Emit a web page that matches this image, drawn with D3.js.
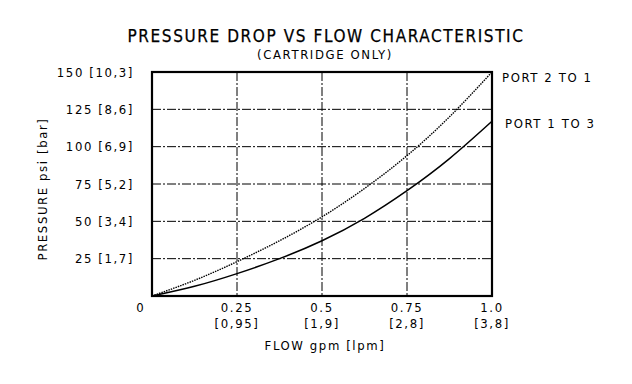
<!DOCTYPE html>
<html>
<head>
<meta charset="utf-8">
<script src="https://cdn.jsdelivr.net/npm/d3@7"></script>
<style>
  body { margin: 0; background: #fff; }
  text { font-family: "DejaVu Sans Condensed", "DejaVu Sans", sans-serif; fill: #000; }
</style>
</head>
<body>
<div id="chart"></div>
<script>
// flow in gpm, pressure in psi
var flow = [0, 0.125, 0.25, 0.375, 0.5, 0.625, 0.75, 0.875, 1.0];
var port21 = [0, 10.5, 23, 37, 53, 72, 94, 120, 150];
var port13 = [0, 6.5, 15, 25, 37, 52, 70.5, 92, 117];

var flowTicks = [0.25, 0.5, 0.75, 1.0];
var flowTickLabels = ["0.25", "0.5", "0.75", "1.0"];
var flowLpmLabels = ["[0,95]", "[1,9]", "[2,8]", "[3,8]"];
var pressTicks = [25, 50, 75, 100, 125, 150];
var pressBarLabels = ["[1,7]", "[3,4]", "[5,2]", "[6,9]", "[8,6]", "[10,3]"];

var margin = {top: 72, right: 140, bottom: 88, left: 152},
    width = 632 - margin.left - margin.right,
    height = 384 - margin.top - margin.bottom;

var svg = d3.select("#chart")
  .append("svg")
    .attr("width", 632)
    .attr("height", 384);

var g = svg.append("g")
    .attr("transform", "translate(" + margin.left + "," + margin.top + ")");

var x = d3.scaleLinear().domain([0, 1]).range([0, width]);
var y = d3.scaleLinear().domain([0, 150]).range([height, 0]);

function label(sel, size, sp) {
  return sel.style("font-size", size + "px").style("letter-spacing", sp + "px");
}

// titles
label(svg.append("text"), 17, 1.6)
    .attr("x", 326).attr("y", 42)
    .attr("text-anchor", "middle")
    .style("stroke", "#000").style("stroke-width", "0.25px")
    .text("PRESSURE DROP VS FLOW CHARACTERISTIC");

label(svg.append("text"), 13, 1.6)
    .attr("x", 325).attr("y", 59)
    .attr("text-anchor", "middle")
    .text("(CARTRIDGE ONLY)");

// grid
g.selectAll(".vgrid")
  .data(flowTicks.filter(function(d) { return d < 1; }))
  .enter().append("line")
    .attr("x1", function(d) { return x(d); })
    .attr("x2", function(d) { return x(d); })
    .attr("y1", 0).attr("y2", height)
    .attr("stroke", "#000").attr("stroke-width", 1)
    .attr("stroke-dasharray", "9,2,2,2");

g.selectAll(".hgrid")
  .data(pressTicks.filter(function(d) { return d < 150; }))
  .enter().append("line")
    .attr("y1", function(d) { return y(d); })
    .attr("y2", function(d) { return y(d); })
    .attr("x1", 0).attr("x2", width)
    .attr("stroke", "#000").attr("stroke-width", 1)
    .attr("stroke-dasharray", "9,2,2,2");

// curves
var line = d3.line()
    .x(function(d) { return x(d[0]); })
    .y(function(d) { return y(d[1]); })
    .curve(d3.curveNatural);

g.append("path")
    .datum(d3.zip(flow, port21))
    .attr("d", line)
    .attr("fill", "none")
    .attr("stroke", "#000")
    .attr("stroke-width", 1.4)
    .attr("stroke-dasharray", "1.5,1");

g.append("path")
    .datum(d3.zip(flow, port13))
    .attr("d", line)
    .attr("fill", "none")
    .attr("stroke", "#000")
    .attr("stroke-width", 1.5);

// frame
g.append("rect")
    .attr("x", 0).attr("y", 0)
    .attr("width", width).attr("height", height)
    .attr("fill", "none")
    .attr("stroke", "#000")
    .attr("stroke-width", 2.2);

// y labels
label(g.selectAll(".ylab")
  .data(pressTicks)
  .enter().append("text"), 13, 1.6)
    .attr("x", -18)
    .attr("y", function(d) { return y(d); })
    .attr("dy", "0.35em")
    .attr("text-anchor", "end")
    .text(function(d, i) { return d + " " + pressBarLabels[i]; });

// x labels
label(g.append("text"), 13, 0)
    .attr("x", -12).attr("y", height + 16)
    .attr("text-anchor", "middle")
    .text("0");

label(g.selectAll(".xlab")
  .data(flowTicks)
  .enter().append("text"), 13, 1.6)
    .attr("x", function(d) { return x(d); })
    .attr("y", height + 16)
    .attr("text-anchor", "middle")
    .text(function(d, i) { return flowTickLabels[i]; });

label(g.selectAll(".xlab2")
  .data(flowTicks)
  .enter().append("text"), 13, 1.6)
    .attr("x", function(d) { return x(d); })
    .attr("y", height + 32)
    .attr("text-anchor", "middle")
    .text(function(d, i) { return flowLpmLabels[i]; });

// axis titles
label(svg.append("text"), 13, 1.6)
    .attr("x", 325).attr("y", 350)
    .attr("text-anchor", "middle")
    .text("FLOW gpm [lpm]");

label(svg.append("text"), 13, 1.6)
    .attr("transform", "translate(47,189) rotate(-90)")
    .attr("text-anchor", "middle")
    .text("PRESSURE psi [bar]");

// series labels
label(g.append("text"), 13, 1.6)
    .attr("x", width + 10).attr("y", y(150) + 5)
    .attr("dy", "0.35em")
    .text("PORT 2 TO 1");

label(g.append("text"), 13, 1.6)
    .attr("x", width + 13).attr("y", y(117) + 2)
    .attr("dy", "0.35em")
    .text("PORT 1 TO 3");
</script>
</body>
</html>
